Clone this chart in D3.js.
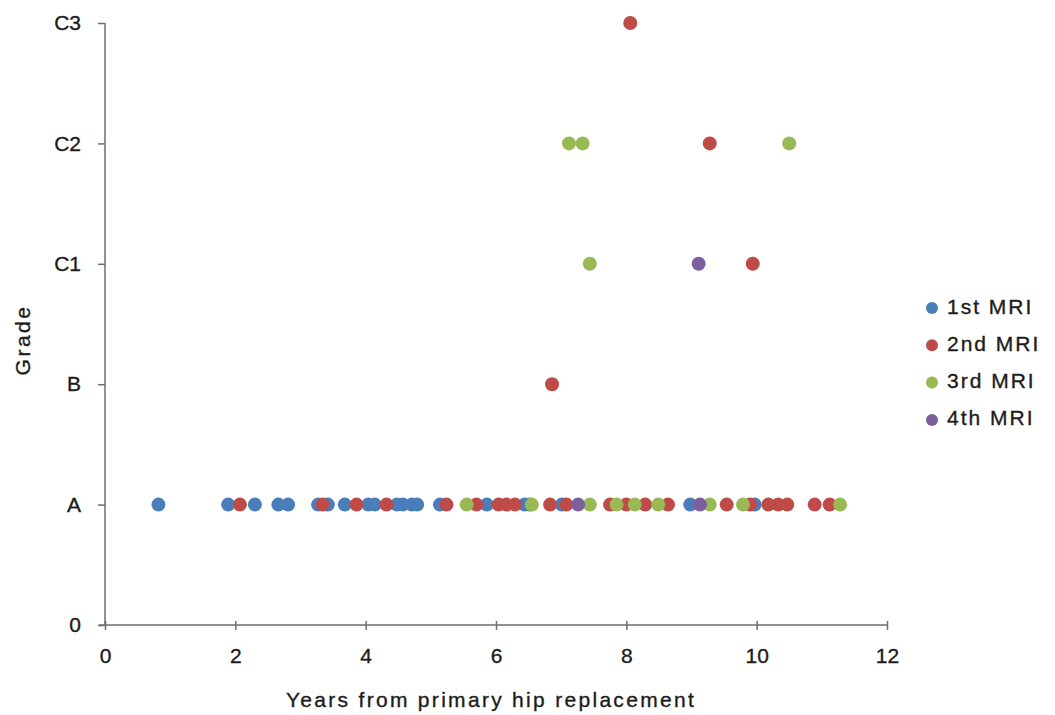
<!DOCTYPE html>
<html>
<head>
<meta charset="utf-8">
<script src="https://cdn.jsdelivr.net/npm/d3@7"></script>
<style>
  html, body { margin: 0; padding: 0; background: #fff; }
  svg { display: block; font-family: "Liberation Sans", Arial, sans-serif; }
  svg text { stroke: #1c1c1c; stroke-width: 0.35px; }
</style>
</head>
<body>
<svg id="chart" width="1055" height="715"></svg>
<script>
// Grade scale, bottom to top
const gradeLabels = ["0", "A", "B", "C1", "C2", "C3"];
const xTicks = [0, 2, 4, 6, 8, 10, 12];

// Years from primary hip replacement, with the grade seen at each MRI
const mri1Years  = [0.82, 1.89, 2.30, 2.66, 2.81, 3.27, 3.42, 3.68, 4.04, 4.14, 4.48, 4.57, 4.71, 4.79, 5.14, 5.86, 6.44, 6.52, 7.01, 8.98, 9.97];
const mri1Grades = ["A","A","A","A","A","A","A","A","A","A","A","A","A","A","A","A","A","A","A","A","A"];

const mri2Years  = [2.07, 3.34, 3.86, 4.32, 5.24, 5.70, 6.04, 6.16, 6.29, 6.83, 7.08, 7.75, 8.00, 8.29, 8.64, 9.54, 9.90, 10.18, 10.33, 10.47, 10.89, 11.12, 8.06, 9.28, 9.94, 6.86];
const mri2Grades = ["A","A","A","A","A","A","A","A","A","A","A","A","A","A","A","A","A","A","A","A","A","A","C3","C2","C1","B"];

const mri3Years  = [5.55, 6.55, 7.44, 7.85, 8.13, 8.49, 9.28, 9.79, 11.28, 7.12, 7.33, 10.50, 7.44];
const mri3Grades = ["A","A","A","A","A","A","A","A","A","C2","C2","C2","C1"];

const mri4Years  = [7.26, 9.13, 9.11];
const mri4Grades = ["A","A","C1"];

const seriesNames  = ["1st MRI", "2nd MRI", "3rd MRI", "4th MRI"];
const seriesColors = ["#4a7ebb", "#be4b48", "#98b954", "#7d5fa0"];

const series = [
  [mri1Years, mri1Grades],
  [mri2Years, mri2Grades],
  [mri3Years, mri3Grades],
  [mri4Years, mri4Grades]
].map(([xs, gs], i) => ({
  name: seriesNames[i],
  color: seriesColors[i],
  points: xs.map((x, j) => ({ x, g: gradeLabels.indexOf(gs[j]) }))
}));

const svg = d3.select("#chart");
const plotLeft = 105, plotRight = 887, plotTop = 23, plotBottom = 625;

const x = d3.scaleLinear().domain([0, 12]).range([plotLeft, plotRight]);
const y = d3.scaleLinear().domain([0, gradeLabels.length - 1]).range([plotBottom, plotTop]);

const axisColor = "#6e6e6e";
const textColor = "#1c1c1c";
const fontSize = 21;

// X axis
const xAxis = svg.append("g")
  .attr("transform", `translate(0,${plotBottom})`)
  .call(d3.axisBottom(x).tickValues(xTicks).tickFormat(d3.format("d")).tickSize(5).tickPadding(18));
xAxis.selectAll(".tick line").attr("y1", -4).attr("stroke", axisColor).attr("stroke-width", 1.5);
xAxis.select(".domain").attr("stroke", axisColor).attr("stroke-width", 1.5)
  .attr("d", `M${plotLeft - 6},0H${plotRight}`);
xAxis.selectAll("text").attr("font-size", fontSize).attr("fill", textColor)
  .attr("font-family", "Liberation Sans, Arial, sans-serif");

// Y axis
const yAxis = svg.append("g")
  .attr("transform", `translate(${plotLeft},0)`)
  .call(d3.axisLeft(y).tickValues(d3.range(gradeLabels.length))
    .tickFormat(i => gradeLabels[i]).tickSize(7).tickPadding(17));
yAxis.selectAll(".tick line").attr("stroke", axisColor).attr("stroke-width", 1.5);
yAxis.select(".domain").attr("stroke", axisColor).attr("stroke-width", 1.5)
  .attr("d", `M0,${plotTop}V${plotBottom}`);
yAxis.selectAll("text").attr("font-size", fontSize).attr("fill", textColor)
  .attr("font-family", "Liberation Sans, Arial, sans-serif");

// Axis titles
svg.append("text")
  .attr("x", 491).attr("y", 707)
  .attr("text-anchor", "middle")
  .attr("font-size", fontSize).attr("fill", textColor)
  .attr("letter-spacing", 2.3)
  .text("Years from primary hip replacement");

svg.append("text")
  .attr("transform", "translate(30,340) rotate(-90)")
  .attr("text-anchor", "middle")
  .attr("font-size", fontSize).attr("fill", textColor)
  .attr("letter-spacing", 2.5)
  .text("Grade");

// Points
const r = 7;
series.forEach(s => {
  svg.append("g").selectAll("circle")
    .data(s.points)
    .join("circle")
    .attr("cx", d => x(d.x))
    .attr("cy", d => y(d.g))
    .attr("r", r)
    .attr("fill", s.color);
});

// Legend
const legend = svg.append("g");
series.forEach((s, i) => {
  const yy = 308 + i * 37.3;
  legend.append("circle").attr("cx", 932).attr("cy", yy).attr("r", 6).attr("fill", s.color);
  legend.append("text").attr("x", 947).attr("y", yy + 5.5)
    .attr("font-size", fontSize).attr("fill", textColor)
    .attr("letter-spacing", 2)
    .text(s.name);
});
</script>
</body>
</html>
